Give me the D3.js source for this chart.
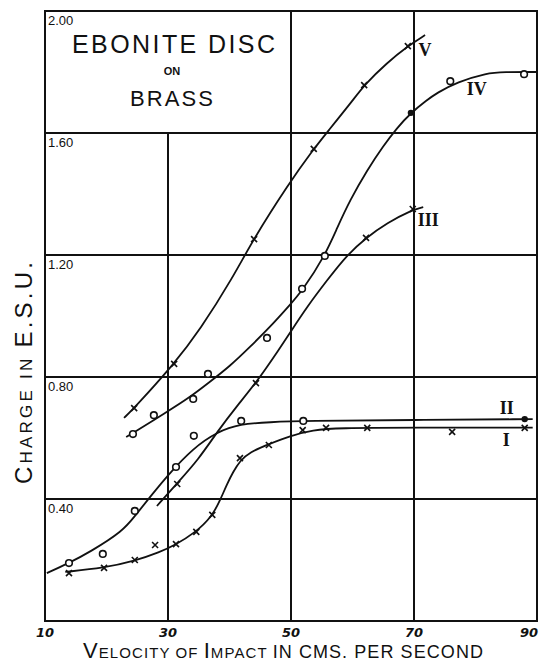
<!DOCTYPE html>
<meta charset="utf-8">
<style>
body {
  margin: 0;
  background-color: #fff;
}
svg {
  display: block;
  background-color: #fff;
}
.frame, .grid line {
  fill: none;
  stroke: #111;
  stroke-width: 2px;
}
.curve {
  fill: none;
  stroke: #111;
  stroke-width: 1.8px;
}
.ylab {
  font-family: "Liberation Sans", sans-serif;
  font-size: 13px;
  fill: #111;
}
.xlab {
  font-family: "DejaVu Sans", sans-serif;
  font-size: 13px;
  font-weight: bold;
  font-style: italic;
  fill: #111;
}
.title, .axis-title {
  font-family: "Liberation Sans", sans-serif;
  fill: #111;
}
.roman {
  font-family: "Liberation Serif", serif;
  font-weight: bold;
  font-size: 18px;
  fill: #111;
}
</style>
<body>
<script src="https://d3js.org/d3.v7.min.js"></script>
<script>
// ticks
var xTicks = [10, 30, 50, 70, 90];
var yTicks = [0.40, 0.80, 1.20, 1.60, 2.00];
var seriesNames = ["I", "II", "III", "IV", "V"];

// drawn curves [velocity, charge]
var curveI = [[13.3,0.161],[19.6,0.174],[24.6,0.197],[28.7,0.226],[31.1,0.249],[34.4,0.289],[37.2,0.344],[38.5,0.397],[39.6,0.449],[40.6,0.489],[41.7,0.525],[43.3,0.554],[46.4,0.580],[49.8,0.607],[53.6,0.626],[57.5,0.633],[70,0.634],[89.3,0.634]];
var curveII = [[10.3,0.157],[13.9,0.190],[17.3,0.226],[22.7,0.295],[24.6,0.344],[27.1,0.407],[30.0,0.479],[34.1,0.567],[38.0,0.620],[41.7,0.646],[46.6,0.652],[52.0,0.656],[69.8,0.659],[89.3,0.662]];
var curveIII = [[28.2,0.377],[31.5,0.452],[34.9,0.528],[38.1,0.623],[41.2,0.705],[44.3,0.780],[48.2,0.895],[49.8,0.944],[52.6,1.030],[55.9,1.118],[59.1,1.200],[62.2,1.256],[65.6,1.305],[69.7,1.348],[71.5,1.357]];
var curveIV = [[23.2,0.603],[29.8,0.685],[33.6,0.734],[36.8,0.784],[40.1,0.836],[43.3,0.898],[46.6,0.964],[49.8,1.036],[51.8,1.082],[55.5,1.197],[57.5,1.289],[59.6,1.380],[62.4,1.479],[65.0,1.557],[67.2,1.616],[69.5,1.666],[72.1,1.708],[73.7,1.731],[77.0,1.767],[81.9,1.797],[84.5,1.800],[90.0,1.800]];
var curveV = [[22.85,0.666],[24.5,0.698],[31.0,0.843],[35.2,0.954],[40.6,1.128],[43.8,1.249],[49.5,1.430],[53.7,1.548],[55.9,1.603],[60.1,1.708],[61.9,1.757],[65.6,1.830],[69.0,1.885],[71.8,1.921]];

// measured points
var pointsI = [[13.9,0.157],[19.6,0.174],[24.6,0.200],[27.9,0.249],[31.3,0.252],[34.6,0.292],[37.2,0.348],[41.7,0.534],[46.4,0.577],[51.9,0.626],[55.7,0.633],[62.4,0.633],[76.2,0.620],[88.0,0.633]];
var pointsII = [[13.9,0.190],[19.4,0.220],[24.6,0.361],[31.3,0.505],[34.2,0.607],[41.9,0.656],[52.0,0.656]];
var dotsII = [[88.0,0.662]];
var pointsIII = [[31.5,0.449],[44.3,0.780],[62.2,1.256],[69.8,1.351]];
var pointsIV = [[24.3,0.613],[27.7,0.675],[34.1,0.728],[36.5,0.810],[46.1,0.928],[51.8,1.089],[55.5,1.197],[75.9,1.770],[87.9,1.793]];
var dotsIV = [[69.5,1.666]];
var pointsV = [[24.5,0.698],[31.0,0.843],[44.0,1.252],[53.7,1.548],[61.9,1.757],[69.0,1.885]];

// where each roman numeral sits
var labelAt = [[85.0,0.593],[85.1,0.698],[72.3,1.315],[80.2,1.744],[71.8,1.872]];

var width = 539, height = 664;

var x = d3.scaleLinear().domain([10, 90]).range([45, 537]);
var y = d3.scaleLinear().domain([0, 2]).range([621, 11]);

var svg = d3.select("body").append("svg")
    .attr("width", width)
    .attr("height", height);

// grid - the 30 line stops under the title box
var grid = svg.append("g").attr("class", "grid");
grid.selectAll(".vx")
    .data(xTicks.slice(1, -1))
  .enter().append("line")
    .attr("x1", function(d) { return x(d); })
    .attr("x2", function(d) { return x(d); })
    .attr("y1", function(d) { return d == 30 ? y(1.6) : y(2); })
    .attr("y2", y(0));
grid.selectAll(".hy")
    .data(yTicks.slice(0, -1))
  .enter().append("line")
    .attr("x1", x(10))
    .attr("x2", x(90))
    .attr("y1", function(d) { return y(d); })
    .attr("y2", function(d) { return y(d); });

svg.append("rect")
    .attr("class", "frame")
    .attr("x", x(10))
    .attr("y", y(2))
    .attr("width", x(90) - x(10))
    .attr("height", y(0) - y(2));

// y labels sit inside the box under each line
svg.selectAll(".ylab")
    .data(yTicks)
  .enter().append("text")
    .attr("class", "ylab")
    .attr("x", x(10) + 3)
    .attr("y", function(d) { return y(d) + 14; })
    .text(function(d) { return d.toFixed(2); });

// last one pulled in so it is not clipped by the page edge
svg.selectAll(".xlab")
    .data(xTicks)
  .enter().append("text")
    .attr("class", "xlab")
    .attr("x", function(d, i) { return i == xTicks.length - 1 ? width - 1 : x(d); })
    .attr("y", 637)
    .attr("text-anchor", function(d, i) { return i == xTicks.length - 1 ? "end" : "middle"; })
    .text(function(d) { return d; });

// curves, smoothed like a hand drawn fit
var line = d3.line()
    .x(function(d) { return x(d[0]); })
    .y(function(d) { return y(d[1]); })
    .curve(d3.curveBasis);

svg.selectAll(".curve")
    .data([curveI, curveII, curveIII, curveIV, curveV])
  .enter().append("path")
    .attr("class", "curve")
    .attr("d", line);

// crosses
var crosses = [].concat(pointsI, pointsIII, pointsV);
svg.selectAll(".cross")
    .data(crosses)
  .enter().append("path")
    .attr("transform", function(d) { return "translate(" + x(d[0]) + "," + y(d[1]) + ")"; })
    .attr("d", "M-3,-3L3,3M-3,3L3,-3")
    .attr("stroke", "#111")
    .attr("stroke-width", 1.6);

// open circles
svg.selectAll(".ring")
    .data([].concat(pointsII, pointsIV))
  .enter().append("circle")
    .attr("cx", function(d) { return x(d[0]); })
    .attr("cy", function(d) { return y(d[1]); })
    .attr("r", 3.3)
    .attr("fill", "#fff")
    .attr("stroke", "#111")
    .attr("stroke-width", 1.6);

svg.selectAll(".dot")
    .data([].concat(dotsII, dotsIV))
  .enter().append("circle")
    .attr("cx", function(d) { return x(d[0]); })
    .attr("cy", function(d) { return y(d[1]); })
    .attr("r", 3.2)
    .attr("fill", "#111");

svg.selectAll(".roman")
    .data(seriesNames)
  .enter().append("text")
    .attr("class", "roman")
    .attr("x", function(d, i) { return x(labelAt[i][0]); })
    .attr("y", function(d, i) { return y(labelAt[i][1]); })
    .attr("text-anchor", "middle")
    .attr("dominant-baseline", "central")
    .text(function(d) { return d; });

// title box
svg.append("text").attr("class", "title")
    .attr("x", 72).attr("y", 53)
    .attr("font-size", 25)
    .attr("textLength", 203).attr("lengthAdjust", "spacing")
    .text("EBONITE DISC");
svg.append("text").attr("class", "title")
    .attr("x", 172).attr("y", 75)
    .attr("font-size", 11).attr("font-weight", "bold")
    .attr("text-anchor", "middle")
    .text("ON");
svg.append("text").attr("class", "title")
    .attr("x", 130).attr("y", 106)
    .attr("font-size", 22)
    .attr("textLength", 83).attr("lengthAdjust", "spacing")
    .text("BRASS");

// axis titles in small caps
var xt = svg.append("text").attr("class", "axis-title")
    .attr("x", 83).attr("y", 658)
    .attr("textLength", 400).attr("lengthAdjust", "spacing");
[["V",22],["ELOCITY OF ",15],["I",22],["MPACT ",15],["IN CMS. PER SECOND",18]].forEach(function(p) {
  xt.append("tspan").attr("font-size", p[1]).text(p[0]);
});

var yt = svg.append("text").attr("class", "axis-title")
    .attr("transform", "translate(32,484) rotate(-90)")
    .attr("textLength", 222).attr("lengthAdjust", "spacing");
[["C",24],["HARGE IN ",17],["E.S.U.",24]].forEach(function(p) {
  yt.append("tspan").attr("font-size", p[1]).text(p[0]);
});
</script>
</body>
